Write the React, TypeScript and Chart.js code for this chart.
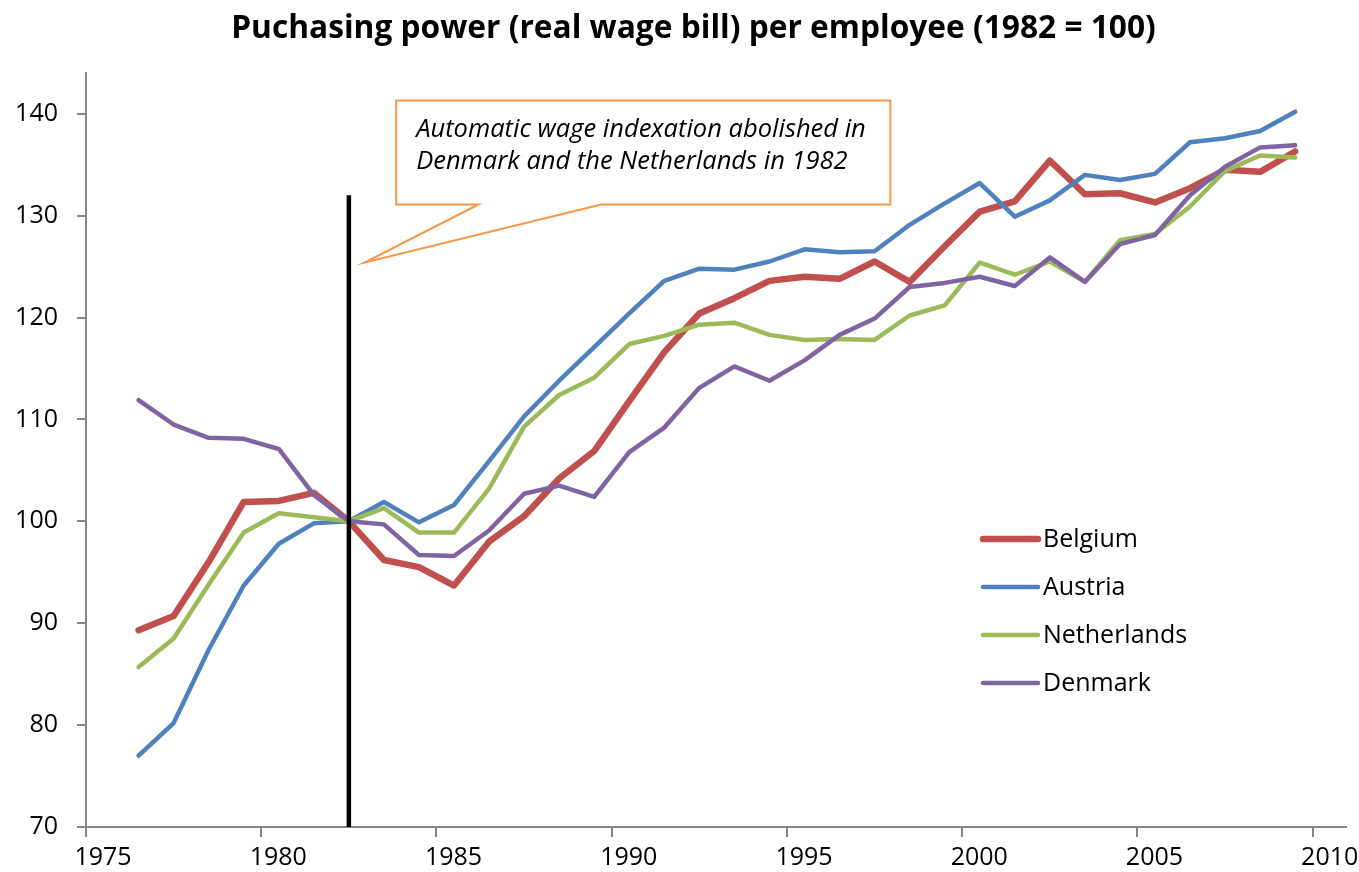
import React, { useEffect, useRef } from "react";
import { Chart, registerables } from "chart.js";

Chart.register(...registerables);

// ---------------- data ----------------
const TITLE = "Puchasing power (real wage bill) per employee (1982 = 100)";

const years = [
  1976, 1977, 1978, 1979, 1980, 1981, 1982, 1983, 1984, 1985, 1986, 1987,
  1988, 1989, 1990, 1991, 1992, 1993, 1994, 1995, 1996, 1997, 1998, 1999,
  2000, 2001, 2002, 2003, 2004, 2005, 2006, 2007, 2008, 2009,
];

const belgium = [
  89.3, 90.7, 96.0, 101.9, 102.0, 102.8, 100.0, 96.2, 95.5, 93.7, 98.0, 100.5,
  104.2, 106.9, 111.8, 116.6, 120.4, 121.9, 123.6, 124.0, 123.8, 125.5, 123.5, 127.0,
  130.4, 131.4, 135.4, 132.1, 132.2, 131.3, 132.7, 134.5, 134.3, 136.3,
];

const austria = [
  77.0, 80.2, 87.4, 93.7, 97.8, 99.8, 100.0, 101.9, 99.9, 101.6, 105.9, 110.3,
  113.8, 117.1, 120.4, 123.6, 124.8, 124.7, 125.5, 126.7, 126.4, 126.5, 129.1, 131.2,
  133.2, 129.9, 131.5, 134.0, 133.5, 134.1, 137.2, 137.6, 138.3, 140.2,
];

const netherlands = [
  85.7, 88.5, 93.8, 98.9, 100.8, 100.4, 100.0, 101.3, 98.9, 98.9, 103.2, 109.3,
  112.4, 114.1, 117.4, 118.2, 119.3, 119.5, 118.3, 117.8, 117.9, 117.8, 120.2, 121.2,
  125.4, 124.2, 125.5, 123.5, 127.6, 128.2, 130.9, 134.4, 135.9, 135.7,
];

const denmark = [
  111.9, 109.5, 108.2, 108.1, 107.1, 102.6, 100.0, 99.7, 96.7, 96.6, 99.1, 102.7,
  103.5, 102.4, 106.8, 109.2, 113.1, 115.2, 113.8, 115.8, 118.3, 119.9, 123.0, 123.4,
  124.0, 123.1, 125.9, 123.5, 127.2, 128.1, 132.0, 134.8, 136.7, 136.9,
];

const seriesNames = ["Belgium", "Austria", "Netherlands", "Denmark"];
const seriesValues = [belgium, austria, netherlands, denmark];
const seriesColors = ["#C0504D", "#4F81BD", "#9BBB59", "#8064A2"];
const seriesWidths = [6.5, 4.5, 4.5, 4.5];

const xTickValues = [1975, 1980, 1985, 1990, 1995, 2000, 2005, 2010];
const yTickValues = [70, 80, 90, 100, 110, 120, 130, 140];

// vertical marker: 1982 (drawn at mid-year like the data points)
const markerYear = 1982;
const markerRange = [70, 132];

const calloutLines = [
  "Automatic wage indexation abolished in",
  "Denmark and the Netherlands in 1982",
];

// ---------------- styling ----------------
const FONT = "'Open Sans', 'DejaVu Sans', sans-serif";
const AXIS_GREY = "#868686";
const CALLOUT_COLOR = "#F79646";

// callout geometry in data coordinates
const callout = {
  left: 1983.85,
  right: 1997.95,
  top: 141.3,
  bottom: 131.1,
  baseA: 1986.2,
  baseB: 1989.7,
  tipX: 1982.95,
  tipY: 125.4,
};

const titlePlugin = {
  id: "centeredTitle",
  afterDraw(chart: any) {
    const { ctx, width } = chart;
    ctx.save();
    ctx.fillStyle = "#000000";
    ctx.font = `bold 31.7px ${FONT}`;
    ctx.textAlign = "center";
    ctx.textBaseline = "middle";
    ctx.fillText(TITLE, width / 2 + 14, 29);
    ctx.restore();
  },
};

const calloutPlugin = {
  id: "calloutBox",
  afterDatasetsDraw(chart: any) {
    const { ctx } = chart;
    const xs = chart.scales.x;
    const ys = chart.scales.y;
    const l = xs.getPixelForValue(callout.left);
    const r = xs.getPixelForValue(callout.right);
    const t = ys.getPixelForValue(callout.top);
    const b = ys.getPixelForValue(callout.bottom);
    const a = xs.getPixelForValue(callout.baseA);
    const bb = xs.getPixelForValue(callout.baseB);
    const tx = xs.getPixelForValue(callout.tipX);
    const ty = ys.getPixelForValue(callout.tipY);
    ctx.save();
    ctx.beginPath();
    ctx.moveTo(l, t);
    ctx.lineTo(r, t);
    ctx.lineTo(r, b);
    ctx.lineTo(bb, b);
    ctx.lineTo(tx, ty);
    ctx.lineTo(a, b);
    ctx.lineTo(l, b);
    ctx.closePath();
    ctx.fillStyle = "#ffffff";
    ctx.fill();
    ctx.lineWidth = 2;
    ctx.strokeStyle = CALLOUT_COLOR;
    ctx.lineJoin = "miter";
    ctx.stroke();
    ctx.fillStyle = "#000000";
    ctx.font = `italic 25.5px ${FONT}`;
    ctx.textAlign = "left";
    ctx.textBaseline = "middle";
    calloutLines.forEach((line, i) => {
      ctx.fillText(line, l + 20, t + 29 + i * 32);
    });
    ctx.restore();
  },
};

const legendPlugin = {
  id: "insideLegend",
  afterDraw(chart: any) {
    const { ctx, chartArea } = chart;
    const x0 = chartArea.left + 897;
    const y0 = chartArea.top + 466;
    ctx.save();
    seriesNames.forEach((name, i) => {
      const y = y0 + i * 48;
      ctx.beginPath();
      ctx.moveTo(x0, y);
      ctx.lineTo(x0 + 55, y);
      ctx.strokeStyle = seriesColors[i];
      ctx.lineWidth = seriesWidths[i];
      ctx.lineCap = "round";
      ctx.stroke();
      ctx.fillStyle = "#000000";
      ctx.font = `25px ${FONT}`;
      ctx.textAlign = "left";
      ctx.textBaseline = "middle";
      ctx.fillText(name, x0 + 60, y + 1);
    });
    ctx.restore();
  },
};

export default function App() {
  const canvasRef = useRef<HTMLCanvasElement | null>(null);

  useEffect(() => {
    document.body.style.margin = "0";
    const canvas = canvasRef.current;
    if (!canvas) return;

    const datasets: any[] = seriesNames.map((name, i) => ({
      label: name,
      data: years.map((yr, j) => ({ x: yr + 0.5, y: seriesValues[i][j] })),
      borderColor: seriesColors[i],
      backgroundColor: seriesColors[i],
      borderWidth: seriesWidths[i],
      pointRadius: 0,
      borderCapStyle: "round",
      borderJoinStyle: "round",
      tension: 0,
      fill: false,
      order: 10 - i,
    }));
    datasets.push({
      label: "1982",
      data: markerRange.map((v) => ({ x: markerYear + 0.5, y: v })),
      borderColor: "#000000",
      borderWidth: 4.5,
      pointRadius: 0,
      fill: false,
      order: 1,
    });

    const chart = new Chart(canvas, {
      type: "line",
      data: { datasets },
      plugins: [titlePlugin, calloutPlugin, legendPlugin],
      options: {
        animation: false,
        responsive: false,
        layout: { padding: { left: 0, right: 13, top: 73, bottom: 0 } },
        plugins: {
          legend: { display: false },
          tooltip: { enabled: false },
          title: { display: false },
        },
        scales: {
          x: {
            type: "linear",
            min: 1975,
            max: 2010.95,
            afterBuildTicks: (scale: any) => {
              scale.ticks = xTickValues.map((v) => ({ value: v }));
            },
            afterFit: (scale: any) => {
              scale.height = 45;
            },
            ticks: {
              color: "#000000",
              font: { family: FONT, size: 25 },
              padding: 6,
              labelOffset: 17,
              maxRotation: 0,
              autoSkip: false,
              callback: (v: any) => String(v),
            },
            grid: {
              display: true,
              drawOnChartArea: false,
              drawTicks: true,
              tickLength: 10,
              color: AXIS_GREY,
              lineWidth: 2,
            },
            border: { display: true, color: AXIS_GREY, width: 2 },
          },
          y: {
            type: "linear",
            min: 70,
            max: 144,
            afterBuildTicks: (scale: any) => {
              scale.ticks = yTickValues.map((v) => ({ value: v }));
            },
            afterFit: (scale: any) => {
              scale.width = 86;
            },
            ticks: {
              color: "#000000",
              font: { family: FONT, size: 25 },
              padding: 19,
              autoSkip: false,
              callback: (v: any) => String(v),
            },
            grid: {
              display: true,
              drawOnChartArea: false,
              drawTicks: true,
              tickLength: 9,
              color: AXIS_GREY,
              lineWidth: 2,
            },
            border: { display: true, color: AXIS_GREY, width: 2 },
          },
        },
      },
    } as any);

    return () => {
      chart.destroy();
    };
  }, []);

  return (
    <div style={{ width: 1359, height: 872 }}>
      <canvas ref={canvasRef} width={1359} height={872} />
    </div>
  );
}
